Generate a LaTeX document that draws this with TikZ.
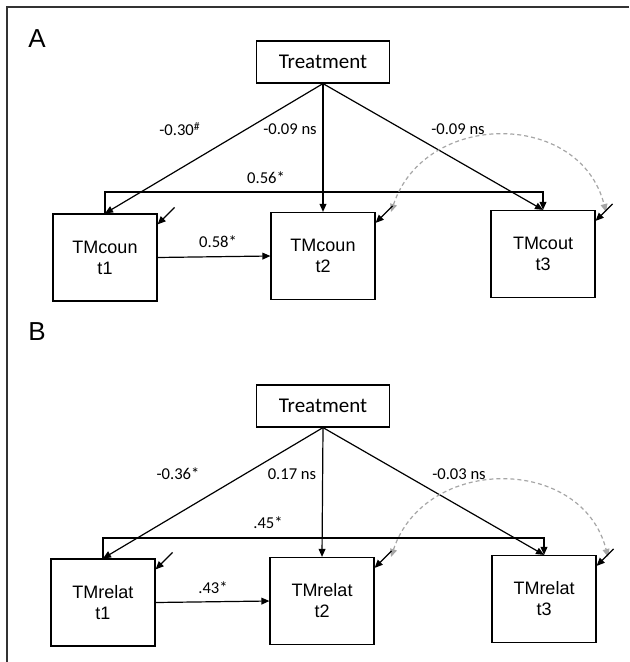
\documentclass[tikz,border=0pt]{standalone}
\usepackage{fontspec}
\setmainfont{Liberation Sans}
\newfontfamily\carl{Carlito}
\usetikzlibrary{positioning,calc,arrows.meta}

\begin{document}
\begin{tikzpicture}[x=0.5pt,y=-0.5pt,
    varbox/.style={draw,line width=.6pt,minimum width=52pt,minimum height=43.5pt,
      inner sep=0pt,align=center,font=\fontsize{9}{10.5}\selectfont},
    treatbox/.style={draw,line width=.6pt,minimum width=66.5pt,minimum height=21pt,
      inner sep=0pt,font=\carl\fontsize{10.5}{12}\selectfont},
    coef/.style={inner sep=0pt,font=\carl\fontsize{8.3}{10}\selectfont},
    effect/.style={line width=.6pt,-{Triangle[length=4pt,width=3.4pt]}},
    resid/.style={line width=.6pt,-{Triangle[length=4pt,width=3.4pt]}},
    covar/.style={black!35,line width=.6pt,dash pattern=on 2pt off 1.5pt,
      {Triangle[length=4pt,width=3.4pt]}-{Triangle[length=4pt,width=3.4pt]}},
    panel/.style={inner sep=0pt,font=\fontsize{13}{15}\selectfont}]
  \useasboundingbox (0,0) rectangle (629,662);
  \draw [line width=.8pt,black!80] (629,7) -- (7,7) -- (7,662);% frame

  \node[panel] (LabA) at (37,38.5) {A};
  \node[panel] (LabB) at (37,332) {B};

  % panel A
  \begin{scope}
    \node[treatbox] (TrA) at (323,62) {Treatment};
    \node[varbox] (A1) at (105,257.5) {TMcoun\\t1};
    \node[varbox] (A2) at (323,256) {TMcoun\\t2};
    \node[varbox] (A3) at (543,254) {TMcout\\t3};
    \coordinate (BendA) at (543,192);

    \draw [effect] (TrA.south) -- (A1.north);
    \draw [effect] (TrA.south) -- (A2.north);
    \draw [effect] (TrA.south) -- (A3.north);
    \draw [effect] (A1.north) |- (BendA) -- (A3.north);
    \draw [effect] (A1.east) -- (A2.west);

    \coordinate (CovA2) at (391,212);
    \coordinate (CovA3) at (606,212);
    \draw [covar] (CovA2) .. controls (425,110) and (580,110) .. (CovA3);
    \foreach \n in {A1,A2,A3}
    {
      \coordinate (\n r) at ($(\n.north east)+(17,-6)$);
      \draw [resid] (\n r) -- ($(\n.north east)+(0,11)$);
    }

    \node[coef] (cA1) at (180,129) {-0.30\textsuperscript{\#}};
    \node[coef] (cA2) at (290,129) {-0.09 ns};
    \node[coef] (cA3) at (458,129) {-0.09 ns};
    \node[coef] (cA4) at (266,178) {0.56*};
    \node[coef] (cA5) at (218,242) {0.58*};
  \end{scope}

  % panel B
  \begin{scope}[shift={(0,345)}]
    \node[treatbox] (TrB) at (323,61) {Treatment};
    \node[varbox] (B1) at (103,257.5) {TMrelat\\t1};
    \node[varbox] (B2) at (322,256) {TMrelat\\t2};
    \node[varbox] (B3) at (544,254) {TMrelat\\t3};
    \coordinate (BendB) at (544,193);

    \draw [effect] (TrB.south) -- (B1.north);
    \draw [effect] (TrB.south) -- (B2.north);
    \draw [effect] (TrB.south) -- (B3.north);
    \draw [effect] (B1.north) |- (BendB) -- (B3.north);
    \draw [effect] (B1.east) -- (B2.west);

    \coordinate (CovB2) at (391,212);
    \coordinate (CovB3) at (608,212);
    \draw [covar] (CovB2) .. controls (425,110) and (582,110) .. (CovB3);
    \foreach \n in {B1,B2,B3}
    {
      \coordinate (\n r) at ($(\n.north east)+(17,-6)$);
      \draw [resid] (\n r) -- ($(\n.north east)+(0,11)$);
    }

    \node[coef] (cB1) at (178,129) {-0.36*};
    \node[coef] (cB2) at (292,129) {0.17 ns};
    \node[coef] (cB3) at (459,129) {-0.03 ns};
    \node[coef] (cB4) at (268,178) {.45*};
    \node[coef] (cB5) at (213,243) {.43*};
  \end{scope}
\end{tikzpicture}
\end{document}
